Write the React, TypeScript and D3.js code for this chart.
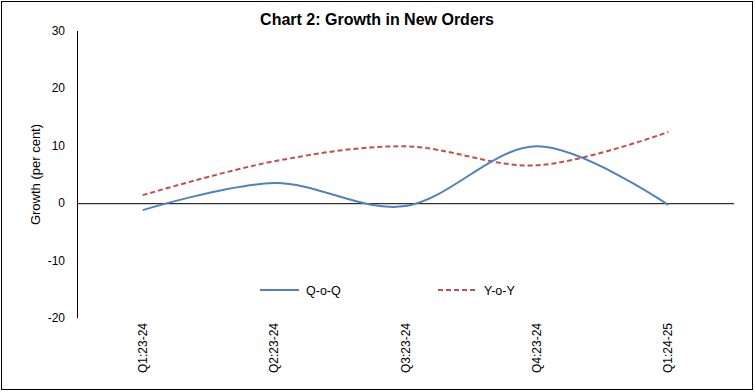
import React, { useEffect, useRef } from 'react';
import * as d3 from 'd3';

const quarters = ['Q1:23-24', 'Q2:23-24', 'Q3:23-24', 'Q4:23-24', 'Q1:24-25'];
const qoq = [-1.2, 3.5, -0.5, 9.9, -0.3];
const yoy = [1.4, 7.3, 9.9, 6.6, 12.4];
const yTicks = [-20, -10, 0, 10, 20, 30];

const App: React.FC = () => {
  const svgRef = useRef<SVGSVGElement>(null);

  useEffect(() => {
    if (!svgRef.current) return;
    const svg = d3.select(svgRef.current);
    svg.selectAll('*').remove();

    const width = 755;
    const height = 392;
    const font = 'Liberation Sans, Arial, sans-serif';

    const x = d3.scalePoint<string>().domain(quarters).range([77, 734]).padding(0.5);
    const y = d3.scaleLinear().domain([-20, 30]).range([318, 31]);

    // frame
    svg.append('rect')
      .attr('x', 1.5).attr('y', 1.5)
      .attr('width', width - 4).attr('height', height - 4)
      .attr('fill', 'white').attr('stroke', '#000').attr('stroke-width', 1);

    // title
    svg.append('text')
      .attr('x', 377).attr('y', 25)
      .attr('text-anchor', 'middle')
      .attr('font-family', font).attr('font-weight', 'bold').attr('font-size', 16)
      .text('Chart 2: Growth in New Orders');

    // y axis
    svg.append('line')
      .attr('x1', 77.5).attr('x2', 77.5)
      .attr('y1', y(30)).attr('y2', y(-20))
      .attr('stroke', '#000');

    svg.selectAll('.ytick')
      .data(yTicks)
      .enter().append('text')
      .attr('x', 65).attr('y', d => y(d) + 4)
      .attr('text-anchor', 'end')
      .attr('font-family', font).attr('font-size', 12)
      .text(d => d);

    svg.append('text')
      .attr('transform', `translate(40,${y(5)}) rotate(-90)`)
      .attr('text-anchor', 'middle')
      .attr('font-family', font).attr('font-size', 13)
      .text('Growth (per cent)');

    // zero line
    svg.append('line')
      .attr('x1', 77).attr('x2', 734)
      .attr('y1', y(0) + 0.5).attr('y2', y(0) + 0.5)
      .attr('stroke', '#000');

    // x labels
    svg.selectAll('.xlab')
      .data(quarters)
      .enter().append('text')
      .attr('transform', d => `translate(${(x(d) as number) + 4},323) rotate(-90)`)
      .attr('text-anchor', 'end')
      .attr('font-family', font).attr('font-size', 12)
      .text(d => d);

    const line = d3.line<number>()
      .x((_, i) => x(quarters[i]) as number)
      .y(d => y(d))
      .curve(d3.curveCardinal.tension(0));

    svg.append('path')
      .datum(yoy)
      .attr('fill', 'none')
      .attr('stroke', '#C0504D')
      .attr('stroke-width', 2)
      .attr('stroke-dasharray', '5,3')
      .attr('d', line);

    svg.append('path')
      .datum(qoq)
      .attr('fill', 'none')
      .attr('stroke', '#4F81BD')
      .attr('stroke-width', 2)
      .attr('d', line);

    // legend
    const legend = [
      { label: 'Q-o-Q', color: '#4F81BD', dash: null as string | null, x0: 260 },
      { label: 'Y-o-Y', color: '#C0504D', dash: '5,3', x0: 438 },
    ];
    legend.forEach(l => {
      svg.append('line')
        .attr('x1', l.x0).attr('x2', l.x0 + 39)
        .attr('y1', 290).attr('y2', 290)
        .attr('stroke', l.color).attr('stroke-width', 2)
        .attr('stroke-dasharray', l.dash);
      svg.append('text')
        .attr('x', l.x0 + 46).attr('y', 294.5)
        .attr('font-family', font).attr('font-size', 12.5)
        .text(l.label);
    });
  }, []);

  return (
    <svg ref={svgRef} width={755} height={392}
      style={{ position: 'absolute', left: 0, top: 0, display: 'block' }} />
  );
};

export default App;
